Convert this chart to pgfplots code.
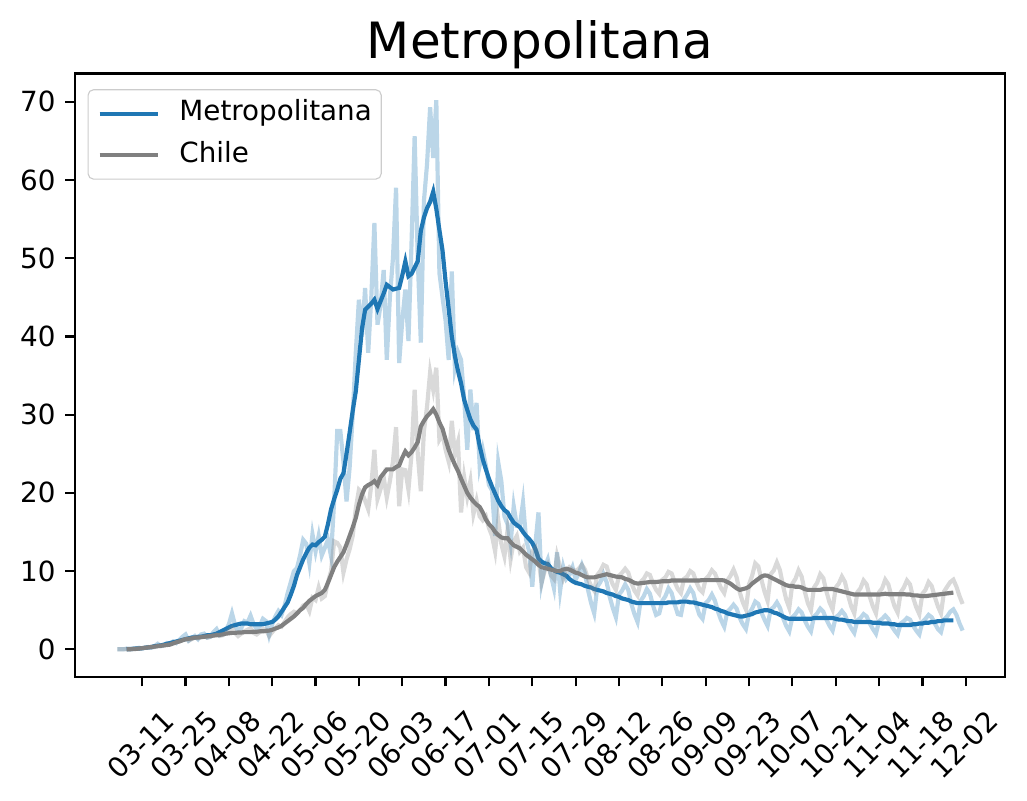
\documentclass[border=0pt]{standalone}
\usepackage{fontspec}
\setmainfont{DejaVu Sans}
\usepackage{pgfplots}
\pgfplotsset{compat=1.18}
\usepackage{pgfplotstable}
\definecolor{mplblue}{HTML}{1F77B4}
\definecolor{mplgray}{HTML}{808080}

% Metropolitana daily
\pgfplotstableread[row sep=\\]{
d v\\
-8 0.0\\ -7 0.0\\ -6 0.0\\ -5 0.1\\ -4 0.0\\ -3 0.1\\ -2 0.1\\ -1 0.2\\ 0 0.1\\ 1 0.2\\
2 0.3\\ 3 0.2\\ 4 0.4\\ 5 0.7\\ 6 0.4\\ 7 0.5\\ 8 0.8\\ 9 0.7\\ 10 1.0\\ 11 0.8\\
12 1.2\\ 13 1.6\\ 14 1.9\\ 15 1.1\\ 16 1.4\\ 17 1.7\\ 18 1.3\\ 19 1.9\\ 20 2.0\\ 21 1.5\\
22 1.6\\ 23 2.2\\ 24 2.6\\ 25 1.8\\ 26 2.0\\ 27 2.4\\ 28 3.2\\ 29 4.6\\ 30 3.1\\ 31 2.4\\
32 2.7\\ 33 3.6\\ 34 3.4\\ 35 4.3\\ 36 3.2\\ 37 2.6\\ 38 3.0\\ 39 3.9\\ 40 3.6\\ 41 1.8\\
42 3.2\\ 43 4.2\\ 44 4.9\\ 45 4.4\\ 46 5.6\\ 47 7.2\\ 48 8.6\\ 49 10.0\\ 50 10.4\\ 51 12.0\\
52 14.0\\ 53 13.5\\ 54 11.0\\ 55 14.7\\ 56 12.5\\ 57 14.5\\ 58 12.0\\ 59 13.0\\ 60 14.0\\ 61 11.9\\
62 19.0\\ 63 27.9\\ 64 27.9\\ 65 24.0\\ 66 18.9\\ 67 23.2\\ 68 30.0\\ 69 38.0\\ 70 44.7\\ 71 40.0\\
72 46.2\\ 73 37.9\\ 74 45.0\\ 75 54.5\\ 76 41.5\\ 77 44.0\\ 78 48.5\\ 79 37.0\\ 80 45.0\\ 81 50.0\\
82 59.0\\ 83 36.6\\ 84 42.0\\ 85 46.0\\ 86 39.4\\ 87 52.0\\ 88 65.6\\ 89 50.0\\ 90 39.2\\ 91 57.3\\
92 62.0\\ 93 69.3\\ 94 62.8\\ 95 70.2\\ 96 48.1\\ 97 45.0\\ 98 42.0\\ 99 37.0\\ 100 48.3\\ 101 36.0\\
102 38.0\\ 103 37.0\\ 104 32.0\\ 105 25.5\\ 106 33.2\\ 107 28.0\\ 108 31.5\\ 109 23.5\\ 110 25.5\\ 111 23.5\\
112 21.0\\ 113 20.3\\ 114 14.5\\ 115 23.9\\ 116 21.5\\ 117 17.0\\ 118 16.0\\ 119 13.5\\ 120 18.3\\ 121 15.8\\
122 15.8\\ 123 18.8\\ 124 14.0\\ 125 12.5\\ 126 8.0\\ 127 13.5\\ 128 17.5\\ 129 8.5\\ 130 10.5\\ 131 11.5\\
132 9.5\\ 133 7.8\\ 134 12.4\\ 135 7.5\\ 136 10.5\\ 137 9.0\\ 138 9.5\\ 139 10.5\\ 140 8.9\\ 141 9.7\\
142 10.8\\ 143 9.7\\ 144 7.6\\ 145 5.9\\ 146 4.6\\ 147 8.0\\ 148 8.6\\ 149 9.6\\ 150 8.6\\ 151 6.7\\
152 5.3\\ 153 4.1\\ 154 7.0\\ 155 7.5\\ 156 8.3\\ 157 7.6\\ 158 5.8\\ 159 4.5\\ 160 3.5\\ 161 6.2\\
162 6.8\\ 163 7.7\\ 164 7.1\\ 165 5.6\\ 166 4.4\\ 167 4.6\\ 168 6.2\\ 169 6.8\\ 170 7.8\\ 171 7.2\\
172 5.7\\ 173 4.5\\ 174 4.4\\ 175 6.4\\ 176 7.0\\ 177 7.8\\ 178 7.2\\ 179 5.6\\ 180 4.4\\ 181 3.9\\
182 5.9\\ 183 6.3\\ 184 7.0\\ 185 6.2\\ 186 4.8\\ 187 3.7\\ 188 2.9\\ 189 4.8\\ 190 5.2\\ 191 5.7\\
192 5.2\\ 193 4.0\\ 194 3.2\\ 195 2.6\\ 196 4.6\\ 197 5.2\\ 198 6.1\\ 199 5.8\\ 200 4.7\\ 201 3.8\\
202 3.0\\ 203 5.1\\ 204 5.4\\ 205 6.0\\ 206 5.3\\ 207 4.0\\ 208 3.0\\ 209 2.3\\ 210 4.1\\ 211 4.5\\
212 5.1\\ 213 4.7\\ 214 3.7\\ 215 2.9\\ 216 2.3\\ 217 4.2\\ 218 4.6\\ 219 5.2\\ 220 4.8\\ 221 3.8\\
222 3.0\\ 223 2.4\\ 224 4.1\\ 225 4.4\\ 226 4.9\\ 227 4.4\\ 228 3.4\\ 229 2.7\\ 230 2.1\\ 231 3.7\\
232 4.0\\ 233 4.5\\ 234 4.2\\ 235 3.3\\ 236 2.6\\ 237 2.0\\ 238 3.6\\ 239 3.9\\ 240 4.3\\ 241 3.9\\
242 3.0\\ 243 2.4\\ 244 1.9\\ 245 3.3\\ 246 3.6\\ 247 4.0\\ 248 3.8\\ 249 3.0\\ 250 2.4\\ 251 1.9\\
252 3.5\\ 253 3.9\\ 254 4.4\\ 255 4.1\\ 256 3.3\\ 257 2.6\\ 258 2.2\\ 259 3.8\\ 260 4.2\\ 261 4.8\\
262 5.1\\ 263 4.4\\ 264 3.3\\ 265 2.4\\
}\mday

% Metropolitana 7-day mean
\pgfplotstableread[row sep=\\]{
d v\\
-5 0.0\\ -4 0.05\\ -3 0.05\\ -2 0.1\\ -1 0.1\\ 0 0.15\\ 1 0.2\\ 2 0.25\\ 3 0.3\\ 4 0.4\\
5 0.45\\ 6 0.5\\ 7 0.6\\ 8 0.7\\ 9 0.8\\ 10 0.9\\ 11 1.0\\ 12 1.1\\ 13 1.2\\ 14 1.3\\
15 1.4\\ 16 1.5\\ 17 1.5\\ 18 1.6\\ 19 1.6\\ 20 1.7\\ 21 1.8\\ 22 1.8\\ 23 1.9\\ 24 2.0\\
25 2.2\\ 26 2.4\\ 27 2.6\\ 28 2.8\\ 29 3.0\\ 30 3.1\\ 31 3.2\\ 32 3.3\\ 33 3.3\\ 34 3.3\\
35 3.2\\ 36 3.2\\ 37 3.2\\ 38 3.2\\ 39 3.2\\ 40 3.3\\ 41 3.4\\ 42 3.5\\ 43 3.8\\ 44 4.2\\
45 4.8\\ 46 5.4\\ 47 6.0\\ 48 7.0\\ 49 8.1\\ 50 9.5\\ 51 10.5\\ 52 11.5\\ 53 12.3\\ 54 13.0\\
55 13.4\\ 56 13.3\\ 57 13.7\\ 58 14.0\\ 59 14.4\\ 60 16.0\\ 61 17.9\\ 62 19.2\\ 63 20.4\\ 64 21.8\\
65 22.5\\ 66 25.0\\ 67 27.7\\ 68 30.5\\ 69 33.0\\ 70 37.0\\ 71 41.0\\ 72 43.4\\ 73 43.8\\ 74 44.2\\
75 44.7\\ 76 43.5\\ 77 44.5\\ 78 45.5\\ 79 46.6\\ 80 46.3\\ 81 46.0\\ 82 46.1\\ 83 46.2\\ 84 47.8\\
85 49.6\\ 86 47.7\\ 87 48.0\\ 88 48.8\\ 89 49.6\\ 90 53.5\\ 91 55.2\\ 92 56.4\\ 93 57.2\\ 94 58.5\\
95 56.3\\ 96 53.6\\ 97 51.0\\ 98 47.0\\ 99 43.5\\ 100 40.0\\ 101 37.5\\ 102 35.6\\ 103 34.0\\ 104 31.9\\
105 30.6\\ 106 29.4\\ 107 28.6\\ 108 28.1\\ 109 26.0\\ 110 24.3\\ 111 23.0\\ 112 21.8\\ 113 20.8\\ 114 19.9\\
115 19.0\\ 116 18.3\\ 117 17.8\\ 118 17.5\\ 119 16.8\\ 120 16.2\\ 121 15.9\\ 122 15.6\\ 123 15.0\\ 124 14.5\\
125 14.1\\ 126 13.6\\ 127 12.8\\ 128 11.6\\ 129 11.2\\ 130 11.0\\ 131 10.9\\ 132 10.4\\ 133 10.1\\ 134 9.9\\
135 9.8\\ 136 9.6\\ 137 9.4\\ 138 9.0\\ 139 8.7\\ 140 8.5\\ 141 8.4\\ 142 8.3\\ 143 8.1\\ 144 8.0\\
145 7.9\\ 146 7.7\\ 147 7.6\\ 148 7.5\\ 149 7.4\\ 150 7.2\\ 151 7.1\\ 152 7.0\\ 153 6.8\\ 154 6.7\\
155 6.5\\ 156 6.4\\ 157 6.3\\ 158 6.1\\ 159 6.0\\ 160 5.9\\ 161 5.9\\ 162 5.9\\ 163 5.9\\ 164 5.9\\
165 5.9\\ 166 5.9\\ 167 5.9\\ 168 5.9\\ 169 5.9\\ 170 6.0\\ 171 6.0\\ 172 6.0\\ 173 6.0\\ 174 6.1\\
175 6.1\\ 176 6.1\\ 177 6.0\\ 178 6.0\\ 179 5.9\\ 180 5.8\\ 181 5.7\\ 182 5.6\\ 183 5.5\\ 184 5.4\\
185 5.2\\ 186 5.1\\ 187 4.9\\ 188 4.8\\ 189 4.6\\ 190 4.5\\ 191 4.4\\ 192 4.3\\ 193 4.2\\ 194 4.2\\
195 4.3\\ 196 4.4\\ 197 4.5\\ 198 4.7\\ 199 4.8\\ 200 4.9\\ 201 5.0\\ 202 5.0\\ 203 4.9\\ 204 4.7\\
205 4.6\\ 206 4.4\\ 207 4.2\\ 208 4.0\\ 209 3.9\\ 210 3.9\\ 211 3.9\\ 212 3.9\\ 213 3.9\\ 214 3.9\\
215 3.9\\ 216 3.9\\ 217 4.0\\ 218 4.0\\ 219 4.0\\ 220 4.0\\ 221 4.0\\ 222 4.0\\ 223 4.0\\ 224 3.9\\
225 3.8\\ 226 3.8\\ 227 3.7\\ 228 3.6\\ 229 3.6\\ 230 3.5\\ 231 3.5\\ 232 3.5\\ 233 3.5\\ 234 3.5\\
235 3.5\\ 236 3.4\\ 237 3.4\\ 238 3.4\\ 239 3.3\\ 240 3.3\\ 241 3.3\\ 242 3.2\\ 243 3.2\\ 244 3.1\\
245 3.1\\ 246 3.1\\ 247 3.1\\ 248 3.1\\ 249 3.2\\ 250 3.2\\ 251 3.3\\ 252 3.3\\ 253 3.4\\ 254 3.4\\
255 3.5\\ 256 3.5\\ 257 3.6\\ 258 3.6\\ 259 3.7\\ 260 3.7\\ 261 3.7\\ 262 3.7\\
}\mroll

% Chile daily
\pgfplotstableread[row sep=\\]{
d v\\
-8 0.0\\ -7 0.0\\ -6 0.0\\ -5 0.0\\ -4 0.0\\ -3 0.05\\ -2 0.1\\ -1 0.1\\ 0 0.15\\ 1 0.2\\
2 0.2\\ 3 0.3\\ 4 0.3\\ 5 0.4\\ 6 0.5\\ 7 0.5\\ 8 0.6\\ 9 0.7\\ 10 0.8\\ 11 0.9\\
12 1.0\\ 13 1.2\\ 14 1.3\\ 15 1.1\\ 16 1.3\\ 17 1.5\\ 18 1.4\\ 19 1.6\\ 20 1.7\\ 21 1.5\\
22 1.6\\ 23 1.8\\ 24 1.9\\ 25 1.7\\ 26 1.8\\ 27 2.1\\ 28 2.4\\ 29 2.7\\ 30 2.1\\ 31 1.7\\
32 2.0\\ 33 2.3\\ 34 2.5\\ 35 2.7\\ 36 2.1\\ 37 1.9\\ 38 2.2\\ 39 2.6\\ 40 2.5\\ 41 1.7\\
42 2.2\\ 43 2.7\\ 44 3.1\\ 45 2.9\\ 46 3.5\\ 47 4.1\\ 48 4.5\\ 49 4.8\\ 50 4.6\\ 51 5.0\\
52 5.6\\ 53 5.8\\ 54 4.9\\ 55 6.6\\ 56 6.3\\ 57 7.9\\ 58 6.5\\ 59 6.8\\ 60 8.6\\ 61 10.0\\
62 13.8\\ 63 13.6\\ 64 13.0\\ 65 9.8\\ 66 11.5\\ 67 12.8\\ 68 14.5\\ 69 18.0\\ 70 20.4\\ 71 20.0\\
72 19.0\\ 73 17.9\\ 74 21.0\\ 75 25.5\\ 76 19.2\\ 77 20.5\\ 78 22.0\\ 79 19.4\\ 80 21.5\\ 81 24.0\\
82 28.4\\ 83 18.3\\ 84 23.0\\ 85 22.9\\ 86 20.4\\ 87 25.0\\ 88 33.2\\ 89 25.0\\ 90 20.2\\ 91 27.9\\
92 31.0\\ 93 35.4\\ 94 33.2\\ 95 36.0\\ 96 26.8\\ 97 27.5\\ 98 25.5\\ 99 24.0\\ 100 29.2\\ 101 25.0\\
102 26.5\\ 103 17.5\\ 104 22.0\\ 105 19.5\\ 106 21.5\\ 107 17.3\\ 108 19.0\\ 109 17.0\\ 110 16.5\\ 111 17.0\\
112 15.5\\ 113 14.5\\ 114 12.5\\ 115 16.5\\ 116 13.5\\ 117 11.9\\ 118 15.2\\ 119 11.5\\ 120 13.8\\ 121 14.5\\
122 12.5\\ 123 13.0\\ 124 10.5\\ 125 9.8\\ 126 12.5\\ 127 13.0\\ 128 11.5\\ 129 8.5\\ 130 10.0\\ 131 10.8\\
132 9.5\\ 133 9.0\\ 134 12.0\\ 135 10.5\\ 136 9.0\\ 137 10.0\\ 138 10.5\\ 139 10.2\\ 140 10.0\\ 141 10.3\\
142 10.8\\ 143 10.2\\ 144 9.0\\ 145 8.1\\ 146 7.5\\ 147 9.5\\ 148 10.0\\ 149 10.8\\ 150 10.6\\ 151 9.3\\
152 8.3\\ 153 7.6\\ 154 9.4\\ 155 9.8\\ 156 10.3\\ 157 9.8\\ 158 8.5\\ 159 7.5\\ 160 6.9\\ 161 8.6\\
162 9.0\\ 163 9.7\\ 164 9.5\\ 165 8.4\\ 166 7.6\\ 167 7.1\\ 168 8.9\\ 169 9.2\\ 170 9.9\\ 171 9.7\\
172 8.6\\ 173 7.7\\ 174 7.2\\ 175 9.0\\ 176 9.3\\ 177 10.0\\ 178 9.7\\ 179 8.6\\ 180 7.7\\ 181 7.3\\
182 9.0\\ 183 9.4\\ 184 10.1\\ 185 9.7\\ 186 8.7\\ 187 7.8\\ 188 7.2\\ 189 8.8\\ 190 9.4\\ 191 10.2\\
192 9.2\\ 193 7.3\\ 194 6.0\\ 195 5.1\\ 196 8.3\\ 197 9.4\\ 198 11.0\\ 199 10.6\\ 200 8.9\\ 201 7.4\\
202 6.2\\ 203 9.6\\ 204 10.1\\ 205 11.1\\ 206 10.1\\ 207 8.1\\ 208 6.4\\ 209 5.3\\ 210 8.4\\ 211 9.0\\
212 10.1\\ 213 9.3\\ 214 7.4\\ 215 5.9\\ 216 5.0\\ 217 7.9\\ 218 8.5\\ 219 9.6\\ 220 9.1\\ 221 7.4\\
222 6.0\\ 223 5.1\\ 224 7.9\\ 225 8.4\\ 226 9.3\\ 227 8.6\\ 228 6.9\\ 229 5.5\\ 230 4.6\\ 231 7.3\\
232 7.8\\ 233 8.8\\ 234 8.3\\ 235 6.7\\ 236 5.5\\ 237 4.6\\ 238 7.3\\ 239 7.8\\ 240 8.9\\ 241 8.3\\
242 6.8\\ 243 5.5\\ 244 4.7\\ 245 7.3\\ 246 7.9\\ 247 8.8\\ 248 8.3\\ 249 6.6\\ 250 5.4\\ 251 4.5\\
252 7.1\\ 253 7.6\\ 254 8.6\\ 255 8.1\\ 256 6.7\\ 257 5.5\\ 258 4.6\\ 259 7.4\\ 260 8.0\\ 261 8.6\\
262 8.9\\ 263 8.0\\ 264 6.8\\ 265 5.8\\
}\cday

% Chile 7-day mean
\pgfplotstableread[row sep=\\]{
d v\\
-5 0.0\\ -4 0.0\\ -3 0.05\\ -2 0.05\\ -1 0.1\\ 0 0.15\\ 1 0.2\\ 2 0.25\\ 3 0.3\\ 4 0.35\\
5 0.4\\ 6 0.45\\ 7 0.5\\ 8 0.55\\ 9 0.6\\ 10 0.75\\ 11 0.9\\ 12 1.0\\ 13 1.15\\ 14 1.3\\
15 1.35\\ 16 1.4\\ 17 1.5\\ 18 1.5\\ 19 1.55\\ 20 1.6\\ 21 1.65\\ 22 1.7\\ 23 1.75\\ 24 1.8\\
25 1.85\\ 26 1.9\\ 27 2.0\\ 28 2.05\\ 29 2.1\\ 30 2.1\\ 31 2.15\\ 32 2.15\\ 33 2.2\\ 34 2.2\\
35 2.2\\ 36 2.25\\ 37 2.25\\ 38 2.3\\ 39 2.3\\ 40 2.35\\ 41 2.4\\ 42 2.5\\ 43 2.65\\ 44 2.8\\
45 3.0\\ 46 3.3\\ 47 3.6\\ 48 3.9\\ 49 4.2\\ 50 4.6\\ 51 5.0\\ 52 5.3\\ 53 5.8\\ 54 6.2\\
55 6.5\\ 56 6.8\\ 57 7.0\\ 58 7.2\\ 59 7.6\\ 60 8.5\\ 61 9.5\\ 62 10.5\\ 63 11.2\\ 64 11.8\\
65 12.4\\ 66 13.4\\ 67 14.5\\ 68 15.6\\ 69 16.8\\ 70 18.5\\ 71 19.8\\ 72 20.7\\ 73 21.0\\ 74 21.2\\
75 21.5\\ 76 21.0\\ 77 22.0\\ 78 22.5\\ 79 23.0\\ 80 23.0\\ 81 23.0\\ 82 23.3\\ 83 23.5\\ 84 24.5\\
85 25.3\\ 86 24.8\\ 87 25.2\\ 88 25.8\\ 89 26.5\\ 90 28.5\\ 91 29.2\\ 92 29.8\\ 93 30.2\\ 94 30.7\\
95 30.0\\ 96 29.0\\ 97 28.2\\ 98 26.8\\ 99 25.5\\ 100 24.5\\ 101 23.6\\ 102 22.8\\ 103 21.8\\ 104 20.9\\
105 20.0\\ 106 19.4\\ 107 18.9\\ 108 18.5\\ 109 18.2\\ 110 17.5\\ 111 16.6\\ 112 16.0\\ 113 15.6\\ 114 15.0\\
115 14.6\\ 116 14.3\\ 117 14.2\\ 118 14.2\\ 119 13.7\\ 120 13.3\\ 121 13.1\\ 122 12.9\\ 123 12.5\\ 124 12.1\\
125 11.8\\ 126 11.5\\ 127 11.2\\ 128 10.8\\ 129 10.5\\ 130 10.4\\ 131 10.3\\ 132 10.2\\ 133 10.1\\ 134 10.0\\
135 10.0\\ 136 10.2\\ 137 10.3\\ 138 10.2\\ 139 10.0\\ 140 9.8\\ 141 9.7\\ 142 9.5\\ 143 9.3\\ 144 9.2\\
145 9.2\\ 146 9.2\\ 147 9.3\\ 148 9.4\\ 149 9.5\\ 150 9.6\\ 151 9.5\\ 152 9.4\\ 153 9.3\\ 154 9.25\\
155 9.2\\ 156 9.0\\ 157 8.9\\ 158 8.7\\ 159 8.5\\ 160 8.4\\ 161 8.45\\ 162 8.5\\ 163 8.55\\ 164 8.6\\
165 8.6\\ 166 8.6\\ 167 8.65\\ 168 8.7\\ 169 8.7\\ 170 8.7\\ 171 8.8\\ 172 8.8\\ 173 8.8\\ 174 8.8\\
175 8.8\\ 176 8.8\\ 177 8.8\\ 178 8.8\\ 179 8.8\\ 180 8.8\\ 181 8.85\\ 182 8.85\\ 183 8.85\\ 184 8.85\\
185 8.85\\ 186 8.85\\ 187 8.85\\ 188 8.8\\ 189 8.6\\ 190 8.4\\ 191 8.1\\ 192 7.8\\ 193 7.6\\ 194 7.7\\
195 7.8\\ 196 8.0\\ 197 8.4\\ 198 8.7\\ 199 9.0\\ 200 9.3\\ 201 9.45\\ 202 9.4\\ 203 9.2\\ 204 9.0\\
205 8.8\\ 206 8.6\\ 207 8.4\\ 208 8.2\\ 209 8.1\\ 210 8.1\\ 211 8.0\\ 212 8.0\\ 213 7.9\\ 214 7.7\\
215 7.6\\ 216 7.6\\ 217 7.6\\ 218 7.6\\ 219 7.6\\ 220 7.7\\ 221 7.7\\ 222 7.7\\ 223 7.7\\ 224 7.6\\
225 7.5\\ 226 7.4\\ 227 7.3\\ 228 7.2\\ 229 7.1\\ 230 7.0\\ 231 7.0\\ 232 7.0\\ 233 7.0\\ 234 7.0\\
235 7.0\\ 236 7.0\\ 237 7.0\\ 238 7.0\\ 239 7.05\\ 240 7.1\\ 241 7.05\\ 242 7.05\\ 243 7.05\\ 244 7.05\\
245 7.05\\ 246 7.05\\ 247 7.0\\ 248 7.0\\ 249 6.9\\ 250 6.9\\ 251 6.85\\ 252 6.8\\ 253 6.8\\ 254 6.85\\
255 6.9\\ 256 6.95\\ 257 7.0\\ 258 7.05\\ 259 7.1\\ 260 7.15\\ 261 7.2\\ 262 7.25\\
}\croll

\begin{document}
\begin{tikzpicture}
\begin{axis}[
  at={(0,0)}, anchor=south west,
  scale only axis, width=334.8pt, height=217.1pt,
  xmin=-21.7, xmax=278.7, ymin=-3.5, ymax=73.6,
  xtick={0,14,...,266},
  xticklabels={03-11,03-25,04-08,04-22,05-06,05-20,06-03,06-17,07-01,07-15,07-29,08-12,08-26,09-09,09-23,10-07,10-21,11-04,11-18,12-02},
  ytick={0,10,...,70},
  tick align=outside, tick pos=left,
  major tick length=3.5pt,
  every tick/.style={black, line width=0.8pt},
  axis line style={line width=0.8pt},
  /pgf/number format/assume math mode=true,
  tick label style={font=\fontsize{10}{12}\selectfont},
  xticklabel style={yshift=-21pt, xshift=-0.6pt, rotate=45, anchor=center},
  title={Metropolitana},
  every axis title/.style={font=\fontsize{18}{21.6}\selectfont, at={(0.5,1)}, anchor=base, yshift=5.6pt, inner sep=0pt},
  legend cell align=left,
  legend image code/.code={\draw[#1, line width=1.5pt] (0pt,0pt) -- (21pt,0pt);},
  legend style={at={(0,1)}, anchor=north west, xshift=4.5pt, yshift=-5.6pt,
    draw=black!20, rounded corners=2pt, fill=white, fill opacity=0.8, text opacity=1,
    font=\fontsize{10}{12}\selectfont, inner xsep=3.4pt, inner ysep=3.8pt,
    row sep=5.4pt, column sep=7pt,
    nodes={inner sep=0pt, text height=7.3pt, text depth=2.3pt}},
]
\addplot[mplblue, line width=1.5pt, draw opacity=0.3, forget plot] table[x=d, y=v] {\mday};
\addplot[mplblue, line width=1.5pt] table[x=d, y=v] {\mroll};
\addlegendentry{Metropolitana}
\addplot[mplgray, line width=1.5pt, draw opacity=0.3, forget plot] table[x=d, y=v] {\cday};
\addplot[mplgray, line width=1.5pt] table[x=d, y=v] {\croll};
\addlegendentry{Chile}
\end{axis}
\pgfresetboundingbox
\path[use as bounding box] (-27pt,-44.7pt) rectangle (342.7pt,243.6pt);
\end{tikzpicture}
\end{document}
